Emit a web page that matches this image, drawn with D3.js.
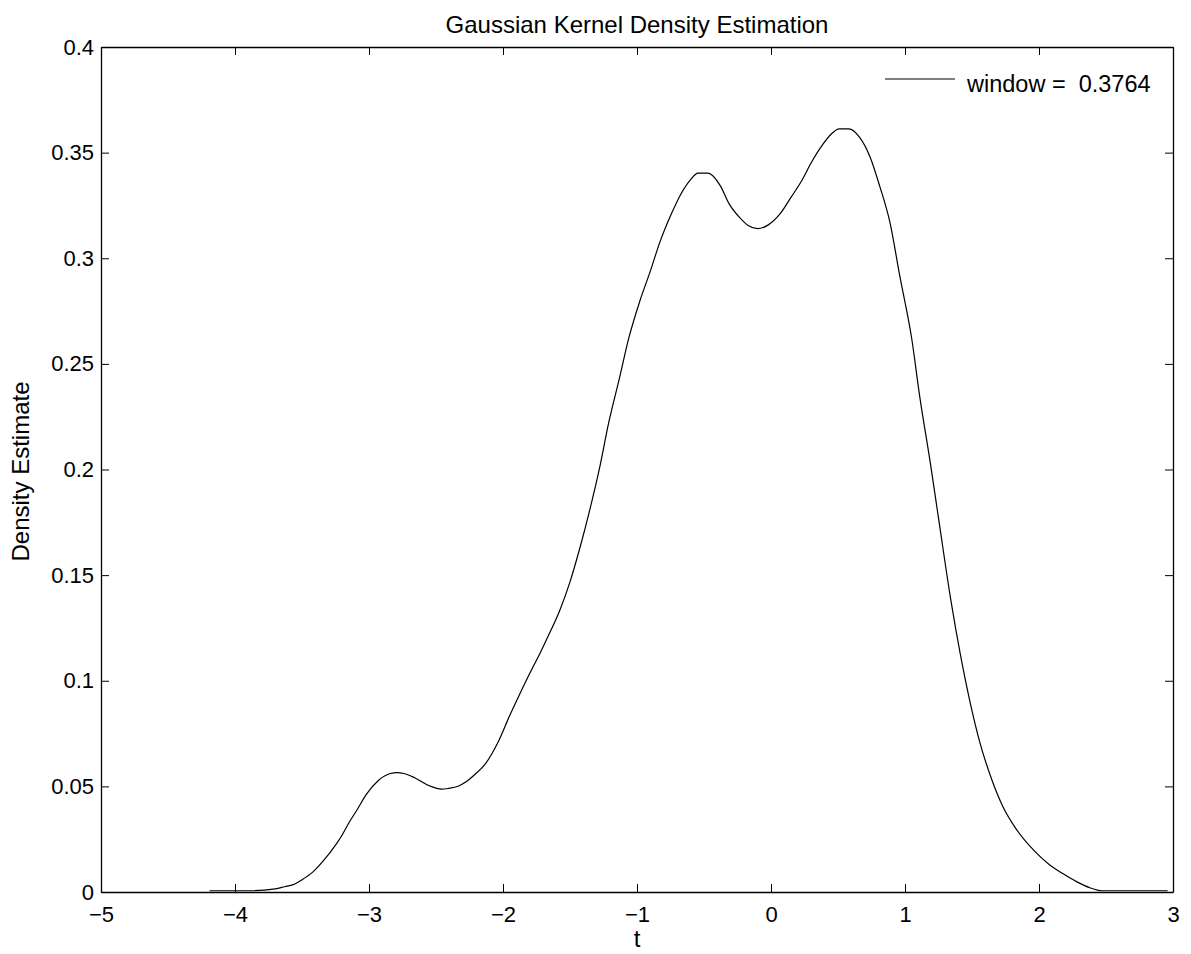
<!DOCTYPE html>
<html>
<head>
<meta charset="utf-8">
<script src="https://cdn.jsdelivr.net/npm/d3@7"></script>
<style>
  body { margin: 0; background: #fff; }
  text { font-family: "Liberation Sans", Arial, Helvetica, sans-serif; fill: #000; }
</style>
</head>
<body>
<div id="canvas"></div>
<script>
// t values and density estimate
const tValues = [-4.19, -3.9, -3.70, -3.63, -3.565, -3.50, -3.42, -3.34, -3.25, -3.2, -3.155, -3.09, -3.02, -2.93, -2.84, -2.79, -2.74, -2.66, -2.55, -2.46, -2.41, -2.33, -2.27, -2.21, -2.13, -2.085, -2.04, -1.95, -1.88, -1.80, -1.72, -1.66, -1.575, -1.50, -1.43, -1.35, -1.28, -1.21, -1.13, -1.06, -0.98, -0.90, -0.83, -0.74, -0.68, -0.60, -0.545, -0.47, -0.38, -0.31, -0.23, -0.17, -0.10, -0.02, 0.07, 0.15, 0.23, 0.30, 0.38, 0.45, 0.51, 0.58, 0.66, 0.74, 0.81, 0.89, 0.96, 1.05, 1.11, 1.19, 1.26, 1.34, 1.41, 1.49, 1.56, 1.65, 1.73, 1.83, 1.96, 2.08, 2.18, 2.28, 2.38, 2.47, 2.96];
const density = [0.0006, 0.0006, 0.0015, 0.0025, 0.0035, 0.0058, 0.0094, 0.0148, 0.0222, 0.027, 0.0322, 0.0388, 0.0462, 0.0528, 0.0561, 0.0565, 0.0561, 0.0541, 0.0503, 0.0487, 0.049, 0.0502, 0.0524, 0.0556, 0.0608, 0.0652, 0.0705, 0.0835, 0.093, 0.1035, 0.1135, 0.1215, 0.1335, 0.1468, 0.162, 0.1815, 0.2005, 0.2225, 0.2435, 0.2625, 0.2795, 0.294, 0.3075, 0.3215, 0.3295, 0.3372, 0.3403, 0.3403, 0.3345, 0.3255, 0.319, 0.3155, 0.314, 0.3158, 0.3212, 0.3289, 0.3368, 0.3452, 0.3533, 0.3588, 0.3612, 0.3612, 0.3573, 0.3478, 0.3344, 0.3163, 0.292, 0.262, 0.2345, 0.2027, 0.1727, 0.139, 0.1135, 0.0886, 0.0705, 0.0528, 0.0405, 0.0298, 0.0198, 0.0128, 0.0086, 0.0049, 0.002, 0.0006, 0.0006];
const xTicks = [-5, -4, -3, -2, -1, 0, 1, 2, 3];
const yTicks = [0, 0.05, 0.1, 0.15, 0.2, 0.25, 0.3, 0.35, 0.4];
const legendLabel = "window =  0.3764";

const width = 1191;
const height = 954;
const margin = { top: 47, left: 101, bottom: 62, right: 18 };
const iwidth = width - margin.left - margin.right;
const iheight = height - margin.top - margin.bottom;

const svg = d3.select("#canvas").append("svg")
    .attr("width", width)
    .attr("height", height);

const g = svg.append("g").attr("transform", `translate(${margin.left},${margin.top})`);

const x = d3.scaleLinear().domain([-5, 3]).range([0, iwidth]);
const y = d3.scaleLinear().domain([0, 0.4]).range([iheight, 0]);

const fmtY = d => String(+d.toFixed(2));

// axes, ticks pointing inward like matlab
g.append("g")
    .attr("transform", `translate(0,${iheight})`)
    .call(d3.axisBottom(x).tickValues(xTicks).tickSizeInner(-8).tickSizeOuter(0).tickPadding(14));
g.append("g")
    .call(d3.axisTop(x).tickValues(xTicks).tickSizeInner(-8).tickSizeOuter(0).tickFormat(""));
g.append("g")
    .call(d3.axisLeft(y).tickValues(yTicks).tickSizeInner(-8).tickSizeOuter(0).tickPadding(7).tickFormat(fmtY));
g.append("g")
    .attr("transform", `translate(${iwidth},0)`)
    .call(d3.axisRight(y).tickValues(yTicks).tickSizeInner(-8).tickSizeOuter(0).tickFormat(""));

g.selectAll(".domain").attr("stroke", "#000").attr("stroke-width", 1.3);
g.selectAll(".tick line").attr("stroke", "#000").attr("stroke-width", 1);
g.selectAll(".tick text").style("font-size", "22px").attr("fill", "#000");

// density curve
const line = d3.line()
    .x((d, i) => x(tValues[i]))
    .y(d => y(d))
    .curve(d3.curveMonotoneX);

g.append("path")
    .datum(density)
    .attr("fill", "none")
    .attr("stroke", "#000")
    .attr("stroke-width", 1.2)
    .attr("d", line);

// legend
g.append("line")
    .attr("x1", 784).attr("x2", 854)
    .attr("y1", 32).attr("y2", 32)
    .attr("stroke", "#000").attr("stroke-width", 1.2);
g.append("text")
    .attr("x", 866).attr("y", 45)
    .style("font-size", "23.5px")
    .style("white-space", "pre")
    .text(legendLabel);

// titles
svg.append("text")
    .attr("x", margin.left + iwidth / 2).attr("y", 33)
    .attr("text-anchor", "middle")
    .style("font-size", "24px")
    .text("Gaussian Kernel Density Estimation");
svg.append("text")
    .attr("x", margin.left + iwidth / 2).attr("y", 947)
    .attr("text-anchor", "middle")
    .style("font-size", "24px")
    .text("t");
svg.append("text")
    .attr("transform", `translate(29,${margin.top + iheight / 2 + 2}) rotate(-90)`)
    .attr("text-anchor", "middle")
    .style("font-size", "24px")
    .text("Density Estimate");
</script>
</body>
</html>
